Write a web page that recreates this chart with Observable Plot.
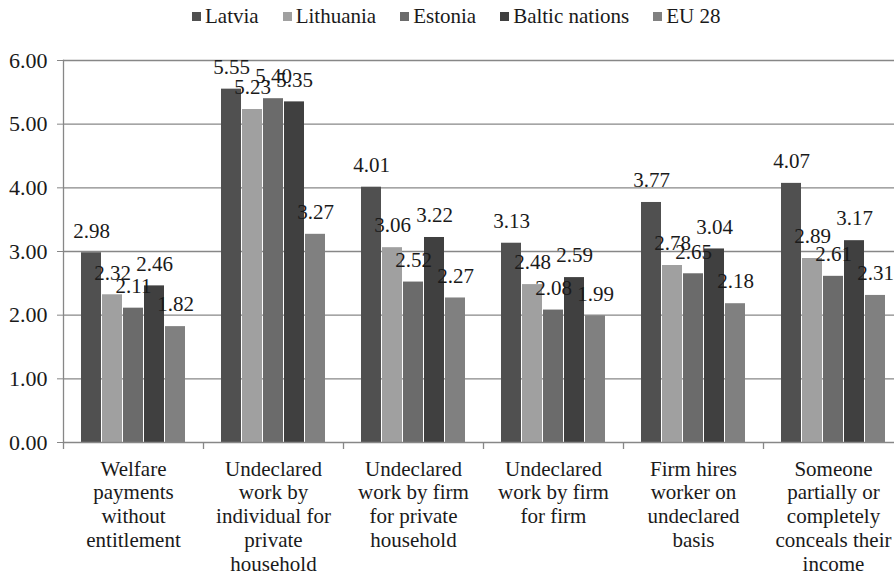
<!DOCTYPE html>
<html><head><meta charset="utf-8">
<script src="https://cdn.jsdelivr.net/npm/d3@7"></script>
<script src="https://cdn.jsdelivr.net/npm/@observablehq/plot@0.6"></script>
<style>
html,body{margin:0;padding:0;background:#fff;overflow:hidden;}
html body, html body div, html body span, html body svg, html body svg text, html body svg tspan{font-family:'Liberation Serif','DejaVu Serif', serif !important;}
#legend{height:32px;display:flex;align-items:center;padding-left:192px;gap:24px;font-size:21px;color:#1a1a1a;box-sizing:border-box}
.item{display:flex;align-items:center;white-space:nowrap}
.sw{width:9px;height:9px;margin-right:4px;display:inline-block}
#chart svg{display:block}
</style></head><body>
<div id="legend"></div><div id="chart"></div>
<script>
const categories = [
  "Welfare payments without entitlement",
  "Undeclared work by individual for private household",
  "Undeclared work by firm for private household",
  "Undeclared work by firm for firm",
  "Firm hires worker on undeclared basis",
  "Someone partially or completely conceals their income"
];
const tickLabels = [
  "Welfare\npayments\nwithout\nentitlement",
  "Undeclared\nwork by\nindividual for\nprivate\nhousehold",
  "Undeclared\nwork by firm\nfor private\nhousehold",
  "Undeclared\nwork by firm\nfor firm",
  "Firm hires\nworker on\nundeclared\nbasis",
  "Someone\npartially or\ncompletely\nconceals their\nincome"
];
const series = ["Latvia", "Lithuania", "Estonia", "Baltic nations", "EU 28"];
const latvia    = [2.98, 5.55, 4.01, 3.13, 3.77, 4.07];
const lithuania = [2.32, 5.23, 3.06, 2.48, 2.78, 2.89];
const estonia   = [2.11, 5.40, 2.52, 2.08, 2.65, 2.61];
const baltic    = [2.46, 5.35, 3.22, 2.59, 3.04, 3.17];
const eu28      = [1.82, 3.27, 2.27, 1.99, 2.18, 2.31];
const yTicks = [0, 1, 2, 3, 4, 5, 6];
const colors = ["#505050", "#a0a0a0", "#6b6b6b", "#404040", "#808080"];

const values = [latvia, lithuania, estonia, baltic, eu28];
const data = [];
categories.forEach((c, i) => series.forEach((s, j) => data.push({category: c, series: s, value: values[j][i]})));

const font = "'Liberation Serif', 'DejaVu Serif', serif";

// legend
const lg = document.getElementById("legend");
series.forEach((s, j) => {
  const it = document.createElement("div"); it.className = "item";
  const sw = document.createElement("span"); sw.className = "sw"; sw.style.background = colors[j];
  const t = document.createElement("span"); t.textContent = s;
  t.style.setProperty("font-family", font, "important");
  it.appendChild(sw); it.appendChild(t); lg.appendChild(it);
});

const W = 894, ML = 63, MR = -9;
const step = (W - ML - MR) / categories.length;
const axisGray = "#878787";
const ink = "#1a1a1a";

const chart = Plot.plot({
  width: W, height: 549,
  marginTop: 28, marginBottom: 139, marginLeft: ML, marginRight: MR,
  style: {fontFamily: font, fontSize: "21px", color: ink, background: "white"},
  fx: {domain: categories, padding: 0, label: null, axis: null},
  x: {domain: series, paddingInner: 0.05, paddingOuter: 0.8, axis: null},
  y: {domain: [0, 6], label: null, axis: null},
  color: {domain: series, range: colors},
  marks: [
    Plot.gridY(yTicks.slice(1), {stroke: axisGray, strokeOpacity: 1, strokeWidth: 1.3}),
    Plot.barY(data, {fx: "category", x: "series", y: "value", fill: "series"}),
    Plot.ruleY([0], {stroke: axisGray, strokeWidth: 1.5}),
    Plot.frame({anchor: "left", facetAnchor: "left", stroke: axisGray, strokeWidth: 1.3}),
    Plot.axisY(yTicks, {tickFormat: d3.format(".2f"), tickSize: 6, tickPadding: 10, fontSize: 22, fontFamily: font, stroke: axisGray, fill: ink, label: null}),
    Plot.axisFx({anchor: "bottom", tickSize: 0, tickPadding: 16, tickFormat: d => tickLabels[categories.indexOf(d)], lineHeight: 1.14, fontSize: 21, fontFamily: font, fill: ink, label: null}),
    Plot.axisFx({anchor: "bottom", tickSize: 7, tickFormat: () => "", dx: -step / 2, stroke: axisGray, strokeWidth: 1.3, label: null}),
    Plot.text(data, {fx: "category", x: "series", y: "value", text: d => d.value.toFixed(2), dy: -22, fontSize: 21, fontFamily: font, fill: ink})
  ]
});
chart.querySelectorAll("text, tspan").forEach(el => el.style.setProperty("font-family", font, "important"));
document.getElementById("chart").appendChild(chart);
</script>
</body></html>
